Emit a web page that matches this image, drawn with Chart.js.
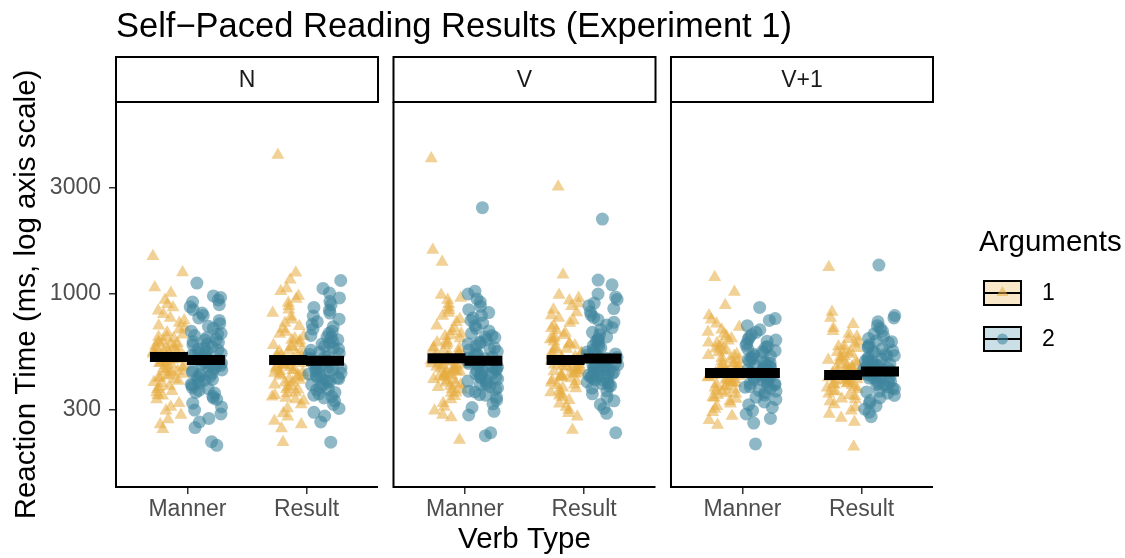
<!DOCTYPE html>
<html>
<head>
<meta charset="utf-8">
<script src="https://cdn.jsdelivr.net/npm/chart.js@4/dist/chart.umd.min.js"></script>
<style>
  html, body { margin: 0; padding: 0; background: #fff; }
  #wrap { width: 1125px; height: 558px; }
</style>
</head>
<body>
<div id="wrap"><canvas id="spr" width="1125" height="558"></canvas></div>
<script>
// Facets, categories, legend
var PANELS = ['N', 'V', 'V+1'];
var CATEGORIES = ['Manner', 'Result'];
var ARGS = ['1', '2'];
var Y_TICKS = [300, 1000, 3000];

// Reaction times (ms), one array per facet / verb type / argument count
var N_MANNER_1 = [1480, 1250, 1070, 1010, 940, 900, 870, 840, 810, 780, 760, 740, 720, 705, 690,
  670, 655, 640, 630, 615, 600, 590, 580, 570, 560, 552, 545, 538, 530, 522, 515, 508, 500, 494,
  487, 480, 472, 465, 458, 450, 443, 436, 428, 420, 412, 405, 395, 385, 372, 360, 348, 335, 322,
  310, 298, 285, 272, 258, 246,
  640, 610, 585, 565, 548, 532, 518, 505, 490, 476, 462, 447, 432, 418, 400, 380, 365, 350, 560, 600];
var N_MANNER_2 = [1120, 980, 965, 940, 920, 895, 875, 850, 820, 800, 780, 760, 735, 715, 700,
  680, 665, 650, 635, 620, 605, 595, 580, 570, 560, 550, 540, 530, 520, 510, 500, 492, 484, 476,
  468, 460, 452, 444, 436, 428, 420, 412, 404, 396, 388, 378, 368, 358, 346, 335, 322, 310, 300,
  288, 275, 265, 250, 216, 208,
  660, 625, 590, 565, 545, 525, 505, 488, 470, 455, 440, 425, 410, 392, 375, 360, 340, 610, 480, 530];
var N_RESULT_1 = [4230, 1245, 1160, 1060, 1030, 980, 950, 910, 880, 850, 820, 790, 765, 740, 715,
  695, 675, 660, 645, 630, 615, 600, 588, 575, 562, 550, 540, 530, 520, 510, 500, 492, 484, 476,
  468, 460, 452, 444, 436, 428, 420, 410, 400, 390, 380, 370, 360, 350, 340, 330, 318, 305, 290,
  280, 268, 258, 248, 215,
  620, 580, 555, 525, 505, 488, 470, 455, 440, 425, 412, 398, 385, 372, 356, 344, 335, 480, 450, 430];
var N_RESULT_2 = [1150, 1060, 1010, 960, 925, 895, 870, 845, 820, 795, 770, 750, 730, 712, 695,
  680, 665, 650, 636, 622, 608, 595, 582, 570, 558, 546, 535, 525, 515, 505, 496, 488, 480, 472,
  464, 456, 448, 440, 432, 424, 416, 408, 400, 390, 380, 370, 360, 350, 340, 330, 318, 305, 293,
  282, 265, 215,
  640, 600, 565, 540, 520, 500, 484, 468, 452, 436, 420, 404, 388, 372, 355, 345, 490, 460, 430, 415];
var V_MANNER_1 = [4080, 1580, 1395, 990, 960, 940, 900, 870, 845, 820, 795, 770, 745, 720, 700,
  680, 662, 645, 630, 615, 600, 588, 576, 565, 555, 545, 535, 526, 518, 510, 502, 494, 486, 478,
  470, 462, 455, 448, 441, 434, 427, 420, 413, 406, 398, 390, 380, 370, 358, 346, 335, 322, 310,
  298, 285, 278, 220,
  650, 605, 570, 540, 520, 500, 485, 470, 455, 440, 425, 410, 395, 385, 372, 360, 480, 460, 445, 430];
var V_MANNER_2 = [2450, 1030, 1000, 950, 920, 880, 850, 825, 800, 780, 760, 740, 720, 700, 682,
  665, 650, 636, 622, 608, 596, 584, 572, 560, 550, 540, 530, 520, 511, 502, 494, 486, 478, 470,
  462, 454, 446, 438, 430, 422, 414, 406, 398, 390, 382, 372, 362, 352, 342, 332, 320, 308, 296,
  285, 237, 230,
  640, 600, 565, 535, 515, 495, 480, 465, 450, 435, 420, 405, 392, 378, 365, 350, 470, 455, 440, 425];
var V_RESULT_1 = [3040, 1220, 990, 960, 935, 905, 880, 850, 825, 800, 780, 760, 740, 720, 700,
  685, 668, 652, 638, 624, 610, 598, 586, 574, 563, 552, 542, 532, 522, 513, 504, 496, 488, 480,
  472, 464, 456, 448, 440, 432, 424, 416, 408, 398, 388, 378, 366, 355, 343, 332, 320, 310, 300,
  290, 280, 244,
  630, 595, 565, 540, 518, 500, 484, 468, 452, 436, 420, 404, 390, 375, 360, 348, 470, 455, 440, 425];
var V_RESULT_2 = [2175, 1155, 1100, 1000, 970, 945, 910, 885, 860, 830, 805, 785, 765, 745, 725,
  705, 690, 672, 656, 640, 626, 612, 598, 585, 572, 560, 548, 537, 527, 518, 510, 502, 494, 487,
  480, 473, 466, 459, 452, 445, 438, 431, 424, 417, 410, 402, 394, 386, 376, 366, 355, 343, 330,
  318, 305, 290, 237,
  620, 580, 550, 530, 512, 496, 482, 470, 458, 446, 434, 422, 410, 398, 385, 470, 455, 440, 425, 410];
var V1_MANNER_1 = [1190, 1020, 890, 800, 765, 735, 710, 690, 675, 660, 645, 630, 616, 603, 590,
  578, 566, 555, 545, 535, 525, 515, 506, 497, 488, 480, 472, 464, 456, 448, 441, 434, 427, 420,
  413, 406, 399, 392, 385, 378, 371, 364, 357, 350, 343, 336, 328, 320, 312, 303, 293, 282, 270,
  257,
  600, 560, 530, 505, 485, 468, 452, 438, 424, 410, 396, 382, 368, 355, 340, 460, 445, 430, 415, 400];
var V1_MANNER_2 = [870, 775, 760, 720, 690, 672, 655, 640, 626, 613, 600, 588, 576, 565, 555,
  545, 535, 526, 517, 508, 500, 492, 484, 476, 468, 460, 452, 445, 438, 431, 424, 417, 410, 403,
  396, 389, 382, 375, 367, 359, 351, 343, 335, 326, 317, 308, 298, 288, 275, 262, 211,
  620, 580, 550, 525, 505, 488, 472, 456, 440, 425, 410, 395, 380, 365, 470, 455, 440, 425, 410, 395];
var V1_RESULT_1 = [1320, 830, 780, 730, 700, 680, 660, 642, 625, 610, 596, 583, 570, 558, 546,
  535, 524, 514, 504, 495, 486, 477, 470, 468, 460, 452, 444, 440, 436, 428, 420, 412, 410, 404,
  396, 390, 388, 380, 372, 364, 355, 346, 337, 328, 318, 308, 298, 288, 276, 265, 205,
  580, 545, 520, 500, 482, 466, 450, 435, 420, 405, 392, 378, 365, 350, 335, 455, 440, 425, 410, 395];
var V1_RESULT_2 = [1350, 800, 780, 750, 720, 700, 680, 662, 645, 630, 616, 603, 590, 578, 566,
  555, 545, 535, 526, 517, 508, 500, 492, 484, 476, 468, 460, 452, 445, 438, 431, 424, 417, 410,
  403, 396, 389, 381, 373, 365, 357, 349, 340, 331, 322, 313, 303, 293, 280,
  610, 575, 550, 528, 510, 494, 478, 462, 447, 432, 418, 404, 390, 376, 362, 480, 465, 450, 435, 420];

// Group means (ms): N-Manner, N-Result, V-Manner, V-Result, V+1-Manner, V+1-Result
var MEAN_ARG1 = [520, 504, 514, 504, 440, 432];
var MEAN_ARG2 = [504, 500, 500, 512, 440, 448];

var GROUPS = [
  [N_MANNER_1, N_MANNER_2], [N_RESULT_1, N_RESULT_2],
  [V_MANNER_1, V_MANNER_2], [V_RESULT_1, V_RESULT_2],
  [V1_MANNER_1, V1_MANNER_2], [V1_RESULT_1, V1_RESULT_2]
];

var STEP = 2.33;     // panel width (2.2) + gap between facets, in x units
var DODGE = 0.155;
var JITTER = 0.135;
var FONT = "'Liberation Sans', Arial, sans-serif";
var COL_TRI = 'rgba(229, 172, 62, 0.55)';
var COL_DOT = 'rgba(62, 132, 156, 0.58)';

function xOf(g, arg) {
  var panel = Math.floor(g / 2), cat = g % 2;
  return panel * STEP + cat + 1 + (arg === 0 ? -DODGE : DODGE);
}

// fixed scatter offset (same every load), like geom_jitter's horizontal spread
function spread(i, g, arg) {
  var s = Math.sin(i * 12.9898 + g * 78.233 + arg * 37.719) * 43758.5453;
  return ((s - Math.floor(s)) - 0.5) * 2 * JITTER;
}

var pts1 = [], pts2 = [], means = [];
GROUPS.forEach(function (pair, g) {
  [pts1, pts2].forEach(function (out, arg) {
    pair[arg].forEach(function (v, i) {
      out.push({ x: xOf(g, arg) + spread(i, g, arg), y: v });
    });
  });
  means.push({ x: xOf(g, 0), y: MEAN_ARG1[g] });
  means.push({ x: xOf(g, 1), y: MEAN_ARG2[g] });
});

var facetPlugin = {
  id: 'facets',
  afterDraw: function (chart) {
    var ctx = chart.ctx, xs = chart.scales.x, a = chart.chartArea;
    ctx.save();
    PANELS.forEach(function (name, p) {
      var x0 = xs.getPixelForValue(p * STEP + 0.4);
      var x1 = xs.getPixelForValue(p * STEP + 2.6);
      // axis lines
      ctx.strokeStyle = '#000';
      ctx.lineWidth = 2;
      ctx.beginPath();
      ctx.moveTo(x0, a.top);
      ctx.lineTo(x0, a.bottom);
      ctx.lineTo(x1, a.bottom);
      ctx.stroke();
      // strip
      ctx.fillStyle = '#fff';
      ctx.fillRect(x0, 57, x1 - x0, 45);
      ctx.strokeRect(x0, 57, x1 - x0, 45);
      ctx.fillStyle = '#1a1a1a';
      ctx.font = '23px ' + FONT;
      ctx.textAlign = 'center';
      ctx.textBaseline = 'middle';
      ctx.fillText(name, (x0 + x1) / 2, 81);
    });

    // titles
    ctx.fillStyle = '#000';
    ctx.font = '34.5px ' + FONT;
    ctx.textAlign = 'left';
    ctx.fillText('Self\u2212Paced Reading Results (Experiment 1)', 116, 27);
    ctx.font = '29.5px ' + FONT;
    ctx.textAlign = 'center';
    ctx.fillText('Verb Type', (a.left + a.right) / 2, 540);
    ctx.save();
    ctx.translate(27, (a.top + a.bottom) / 2);
    ctx.rotate(-Math.PI / 2);
    ctx.fillText('Reaction Time (ms, log axis scale)', 0, 0);
    ctx.restore();

    // legend
    ctx.textAlign = 'left';
    ctx.font = '29.5px ' + FONT;
    ctx.fillText('Arguments', 979, 243);
    var keyFill = ['rgb(248, 231, 201)', 'rgb(202, 223, 230)'];
    ARGS.forEach(function (lab, k) {
      var ky = 281 + k * 46;
      ctx.fillStyle = keyFill[k];
      ctx.fillRect(984, ky, 37, 24);
      ctx.strokeStyle = '#000';
      ctx.lineWidth = 2;
      ctx.strokeRect(984, ky, 37, 24);
      ctx.beginPath();
      ctx.moveTo(984, ky + 12);
      ctx.lineTo(1021, ky + 12);
      ctx.stroke();
      ctx.fillStyle = k === 0 ? COL_TRI : COL_DOT;
      ctx.beginPath();
      if (k === 0) {
        ctx.moveTo(1002.5, ky + 5);
        ctx.lineTo(1008.5, ky + 15);
        ctx.lineTo(996.5, ky + 15);
        ctx.closePath();
      } else {
        ctx.arc(1002.5, ky + 12, 5.5, 0, Math.PI * 2);
      }
      ctx.fill();
      ctx.fillStyle = '#000';
      ctx.font = '23px ' + FONT;
      ctx.fillText(lab, 1042, ky + 13);
    });
    ctx.restore();
  }
};

new Chart(document.getElementById('spr').getContext('2d'), {
  type: 'scatter',
  data: {
    datasets: [
      {
        label: ARGS[0], data: pts1, order: 3,
        pointStyle: 'triangle', pointRadius: 7.5, pointBorderWidth: 0,
        backgroundColor: COL_TRI
      },
      {
        label: ARGS[1], data: pts2, order: 2,
        pointStyle: 'circle', pointRadius: 6.5, pointBorderWidth: 0,
        backgroundColor: COL_DOT
      },
      {
        label: 'mean', data: means, order: 1,
        pointStyle: 'line', pointRadius: 19, pointBorderWidth: 10,
        borderColor: '#000', backgroundColor: '#000'
      }
    ]
  },
  options: {
    responsive: false,
    animation: false,
    devicePixelRatio: 1,
    events: [],
    layout: { padding: { left: 0, top: 102, right: 192, bottom: 0 } },
    plugins: { legend: { display: false }, tooltip: { enabled: false } },
    scales: {
      x: {
        type: 'linear',
        min: 0.4,
        max: 2 * STEP + 2.6,
        afterBuildTicks: function (s) {
          var t = [];
          PANELS.forEach(function (p, i) {
            CATEGORIES.forEach(function (c, j) { t.push({ value: i * STEP + j + 1 }); });
          });
          s.ticks = t;
        },
        afterFit: function (s) { s.height = 71; },
        ticks: {
          autoSkip: false, maxRotation: 0, padding: 2,
          color: '#4d4d4d', font: { family: FONT, size: 23 },
          callback: function (v, i) { return CATEGORIES[i % 2]; }
        },
        grid: { drawOnChartArea: false, drawTicks: true, tickLength: 7, color: '#333', lineWidth: 1.5 },
        border: { display: false }
      },
      y: {
        type: 'logarithmic',
        min: 135,
        max: 7330,
        afterBuildTicks: function (s) {
          s.ticks = Y_TICKS.map(function (v) { return { value: v }; });
        },
        afterFit: function (s) { s.width = 116; },
        ticks: {
          padding: 8,
          color: '#4d4d4d', font: { family: FONT, size: 23 },
          callback: function (v) { return String(v); }
        },
        grid: { drawOnChartArea: false, drawTicks: true, tickLength: 7, color: '#333', lineWidth: 1.5 },
        border: { display: false }
      }
    }
  },
  plugins: [facetPlugin]
});
</script>
</body>
</html>
